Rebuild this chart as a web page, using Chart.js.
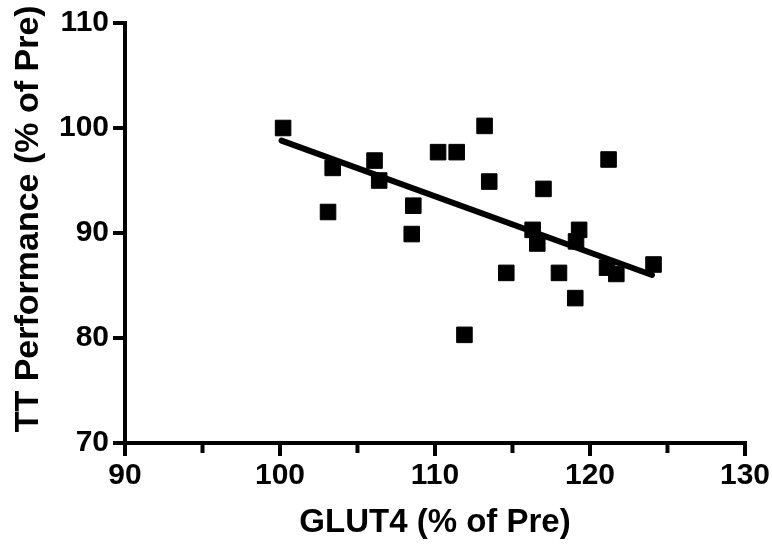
<!DOCTYPE html>
<html>
<head>
<meta charset="utf-8">
<script src="https://cdn.jsdelivr.net/npm/chart.js@4"></script>
<style>
  html, body { margin: 0; padding: 0; background: #fff; }
  canvas { display: block; }
</style>
</head>
<body>
<canvas id="glutChart" width="772" height="546"></canvas>
<script>
// points
const glut4 = [100.2, 103.4, 103.1, 106.1, 106.4, 108.6, 108.5, 110.2, 111.4, 113.2, 113.5, 111.9,
  117.0, 116.3, 116.6, 119.3, 119.1, 114.6, 118.0, 119.05, 121.1, 121.7, 124.1, 121.2];
const ttPerf = [100.0, 96.2, 92.0, 96.9, 95.0, 92.6, 89.9, 97.7, 97.7, 100.2, 94.9, 80.3,
  94.2, 90.3, 89.0, 90.3, 89.2, 86.2, 86.2, 83.8, 86.7, 86.1, 87.0, 97.0];

// regression line ends
const fitX = [100.1, 124.0];
const fitY = [98.8, 86.0];

const minorTicksX = [95, 105, 115, 125];

const fontFamily = '"Liberation Sans", Arial, sans-serif';

const minorTicks = {
  id: 'minorTicks',
  afterDraw(chart) {
    const { ctx, scales: { x }, chartArea } = chart;
    ctx.save();
    ctx.strokeStyle = '#000';
    ctx.lineWidth = 4;
    for (const v of minorTicksX) {
      const px = x.getPixelForValue(v);
      ctx.beginPath();
      ctx.moveTo(px, chartArea.bottom);
      ctx.lineTo(px, chartArea.bottom + 10);
      ctx.stroke();
    }
    ctx.restore();
  }
};

const ctx = document.getElementById('glutChart').getContext('2d');
new Chart(ctx, {
  data: {
    datasets: [
      {
        type: 'scatter',
        data: glut4.map((g, i) => ({ x: g, y: ttPerf[i] })),
        pointStyle: 'rect',
        pointRadius: 11,
        backgroundColor: '#000',
        borderColor: '#000',
        borderWidth: 1
      },
      {
        type: 'line',
        data: fitX.map((g, i) => ({ x: g, y: fitY[i] })),
        borderColor: '#000',
        borderWidth: 6,
        borderCapStyle: 'round',
        pointRadius: 0,
        fill: false
      }
    ]
  },
  options: {
    responsive: false,
    devicePixelRatio: 1,
    animation: false,
    layout: { padding: { left: 0, top: 23, right: 26, bottom: 0 } },
    plugins: { legend: { display: false }, tooltip: { enabled: false } },
    scales: {
      x: {
        type: 'linear',
        min: 90, max: 130,
        afterFit: s => { s.height = 103; },
        border: { display: true, color: '#000', width: 4 },
        grid: { drawOnChartArea: false, drawTicks: true, tickLength: 13, color: '#000', lineWidth: 4, tickWidth: 4 },
        ticks: { stepSize: 10, color: '#000', padding: 2, font: { family: fontFamily, size: 30, weight: 'bold' } },
        title: {
          display: true, text: 'GLUT4 (% of Pre)', color: '#000',
          padding: { top: 0, bottom: 3 },
          font: { family: fontFamily, size: 33, weight: 'bold' }
        }
      },
      y: {
        type: 'linear',
        min: 70, max: 110,
        afterFit: s => { s.width = 125; },
        border: { display: true, color: '#000', width: 4 },
        grid: { drawOnChartArea: false, drawTicks: true, tickLength: 12, color: '#000', lineWidth: 4, tickWidth: 4 },
        ticks: { stepSize: 10, color: '#000', padding: 4, font: { family: fontFamily, size: 30, weight: 'bold' } },
        title: {
          display: true, text: '   TT Performance (% of Pre)', color: '#000',
          padding: { top: 8, bottom: 0 },
          font: { family: fontFamily, size: 34, weight: 'bold' }
        }
      }
    }
  },
  plugins: [minorTicks]
});
</script>
</body>
</html>
